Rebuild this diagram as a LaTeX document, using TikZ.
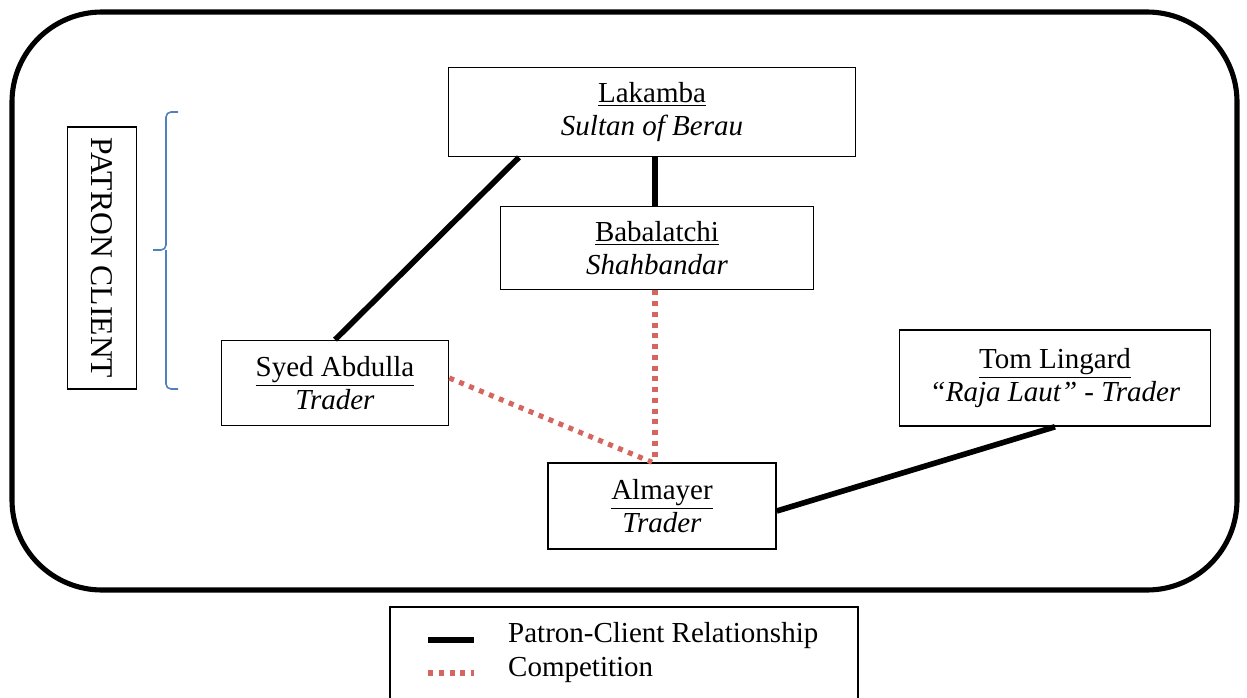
\documentclass[tikz,border=0pt]{standalone}
\usepackage{fontspec}
\setmainfont{Liberation Serif}
\usetikzlibrary{calc, positioning}
\definecolor{compRed}{RGB}{212,101,95}
\definecolor{braceBlue}{RGB}{79,129,189}
\tikzset{
  every picture/.append style = {font=\fontsize{16.5}{18.5}\selectfont},
  person/.style   = {draw, line width=0.9pt, align=center, inner sep=2pt},
  patron/.style   = {line width=3.2pt, black},
  rival/.style    = {line width=2.9pt, compRed, dash pattern=on 1mm off 1.15mm},
}

\begin{document}
\begin{tikzpicture}[x=0.2mm, y=-0.2mm]
\useasboundingbox (0,0) rectangle (1247,698);
% ---- frame ---------------------------------------------------------------
\draw[line width=2.9pt, rounded corners=18mm] (12,12) rectangle (1237,590);

% ---- people --------------------------------------------------------------
\node[person, minimum width=81.4mm, minimum height=17.8mm] (lakamba) at (652,112)
  {\underline{Lakamba}\\\textit{Sultan of Berau}};
\node[person, minimum width=62.6mm, minimum height=16.6mm] (babalatchi) at (657,248)
  {\underline{Babalatchi}\\\textit{Shahbandar}};
\node[person, minimum width=45.4mm, minimum height=17mm] (syed) at (335,383)
  {\underline{Syed Abdulla}\\\textit{Trader}};
\node[person, minimum width=62.2mm, minimum height=19.2mm] (lingard) at (1055,378)
  {\underline{Tom Lingard}\\\textit{``Raja Laut'' - Trader}};
\node[person, minimum width=45.6mm, minimum height=17.2mm] (almayer) at (662,506)
  {\underline{Almayer}\\\textit{Trader}};

% ---- side label and brace ------------------------------------------------
\node[person, rotate=-90, minimum width=52.4mm, minimum height=13.8mm,
      font=\fontsize{18}{20}\selectfont] (pc) at (102,258)
  {PATRON CLIENT};
\draw[braceBlue, line width=0.9pt, rounded corners=1mm]
  (178,112) -- (166,112) -- (166,250) -- (153,250);
\draw[braceBlue, line width=0.9pt, rounded corners=1mm]
  (178,389) -- (166,389) -- (166,250);

% ---- relationships -------------------------------------------------------
\draw[patron] ([xshift=-26.6mm]lakamba.south) -- (syed.north);
\draw[patron] ([xshift=0.6mm]lakamba.south) -- ([xshift=0.6mm]lakamba.south |- babalatchi.north);
\draw[patron] ([yshift=-1mm]almayer.east) -- (lingard.south);
\draw[rival] ([xshift=-0.4mm]babalatchi.south) -- ([xshift=-0.4mm]babalatchi.south |- almayer.north);
\draw[rival] ([yshift=1mm]syed.east) -- ([xshift=-2mm]almayer.north);

% ---- legend --------------------------------------------------------------
\draw[line width=0.9pt] (390,704) |- (858,607) -- (858,704);
\node[anchor=west] (lgPatron) at (502,636) {Patron-Client Relationship};
\node[anchor=west] (lgRival) at (502,670) {Competition};
\coordinate (lgA) at (428,640);
\coordinate (lgB) at (428,673);
\draw[patron] (lgA) -- ++(46,0);
\draw[rival] (lgB) -- ++(46,0);
\end{tikzpicture}
\end{document}
